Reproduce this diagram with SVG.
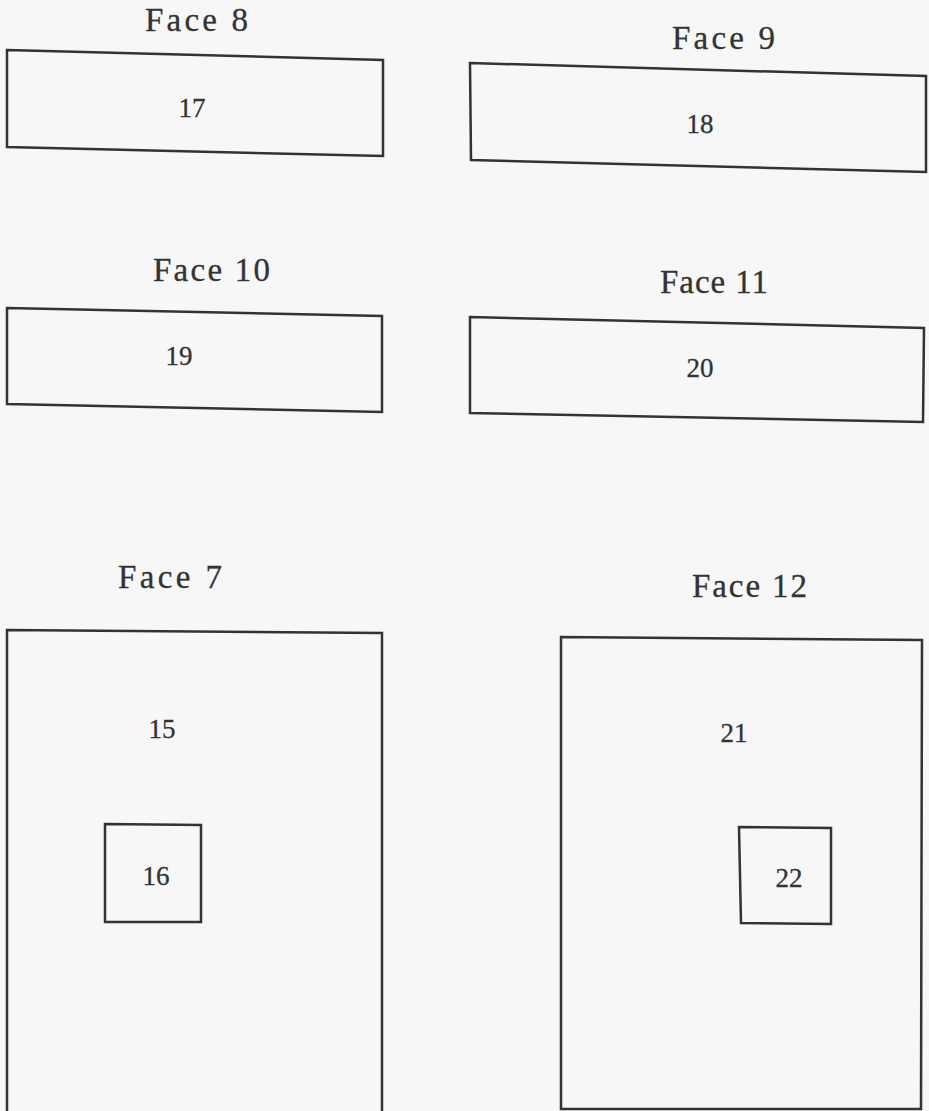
<svg xmlns="http://www.w3.org/2000/svg" width="929" height="1111" viewBox="0 0 929 1111">
<style>
.bg{fill:#f7f7f7}
.box{fill:none;stroke:#333;stroke-width:2.5;stroke-linejoin:miter}
.title{font-family:"Liberation Serif","DejaVu Serif",serif;font-size:33px;fill:#333;stroke:#333;stroke-width:0.3}
.num{font-family:"Liberation Serif","DejaVu Serif",serif;font-size:27px;fill:#333;stroke:#333;stroke-width:0.3;text-anchor:middle}
</style>
<rect class="bg" x="0" y="0" width="929" height="1111"/>
<g id="face8">
<text class="title" x="145" y="31" textLength="103" lengthAdjust="spacing">Face 8</text>
<polygon class="box" points="7,50 383,60 383,156 7,147"/>
<text class="num" x="192" y="117">17</text>
</g>
<g id="face9">
<text class="title" x="672" y="49" textLength="103" lengthAdjust="spacing">Face 9</text>
<polygon class="box" points="470,63 926,76 926,172 471,160"/>
<text class="num" x="700" y="133">18</text>
</g>
<g id="face10">
<text class="title" x="153" y="281" textLength="117" lengthAdjust="spacing">Face 10</text>
<polygon class="box" points="7,308 382,316 382,412 7,404"/>
<text class="num" x="179" y="365">19</text>
</g>
<g id="face11">
<text class="title" x="660" y="293" textLength="108" lengthAdjust="spacing">Face 11</text>
<polygon class="box" points="470,317 924,328 923,422 470,413"/>
<text class="num" x="700" y="377">20</text>
</g>
<g id="face7">
<text class="title" x="118" y="588" textLength="104" lengthAdjust="spacing">Face 7</text>
<polygon class="box" points="7,630 382,633 382,1114 7,1114"/>
<text class="num" x="162" y="738">15</text>
</g>
<g id="face7-hole16">
<polygon class="box" points="105,824 201,825 201,922 105,922"/>
<text class="num" x="156" y="885">16</text>
</g>
<g id="face12">
<text class="title" x="692" y="597" textLength="115" lengthAdjust="spacing">Face 12</text>
<polygon class="box" points="561,637 922,640 921,1109 561,1109"/>
<text class="num" x="734" y="742">21</text>
</g>
<g id="face12-hole22">
<polygon class="box" points="739,827 831,828 831,924 741,923"/>
<text class="num" x="789" y="887">22</text>
</g>
<g id="connectors"></g>
</svg>
